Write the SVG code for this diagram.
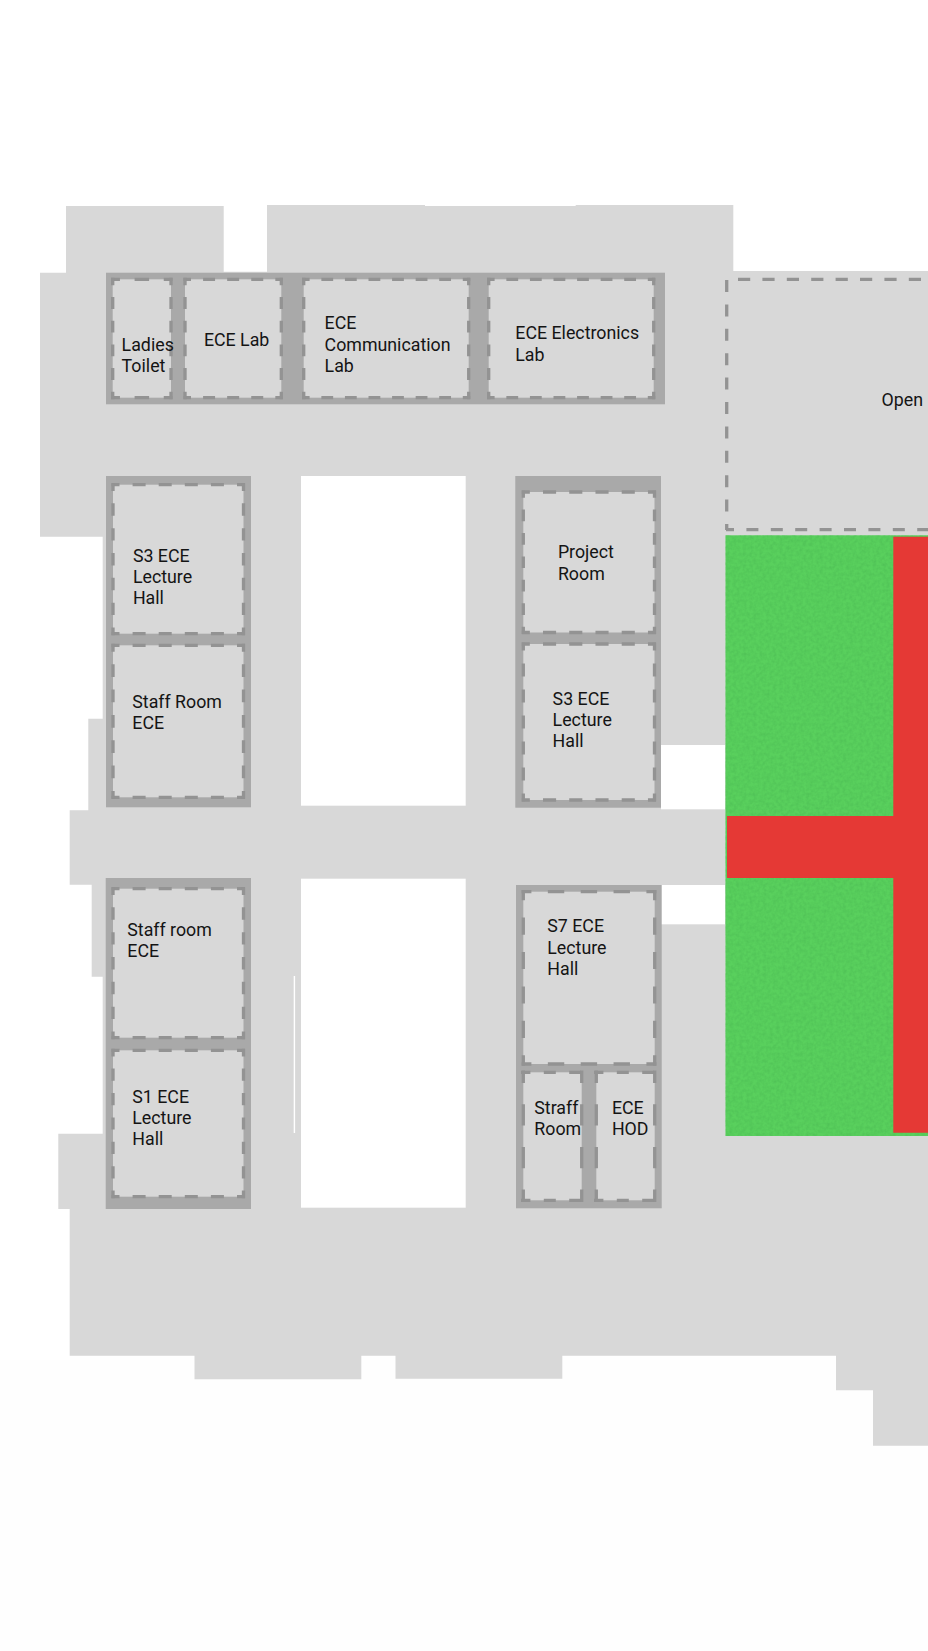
<svg xmlns="http://www.w3.org/2000/svg" width="928" height="1651" viewBox="0 0 928 1651">
<style>
.floor{fill:#d8d8d8}
.hole{fill:#fff}
.frame{fill:#a9a9a9}
.room{fill:#d8d8d8}
.d{fill:none;stroke:#939393;stroke-width:3.3}
text{font-family:Roboto,"Liberation Sans",sans-serif;font-size:17.8px;fill:#141414;transform:translate(-.4px,.5px)}
</style>
<defs>
<filter id="grain" x="0" y="0" width="1" height="1" color-interpolation-filters="sRGB">
<feTurbulence type="fractalNoise" baseFrequency="0.3" numOctaves="2" seed="3" result="n"/>
<feColorMatrix in="n" values="0 0 0 0 0.3 0 0 0 0 0.74 0 0 0 0 0.33 0 0 1.2 0 -0.4" result="m"/>
<feComposite in="m" in2="SourceGraphic" operator="in" result="c"/>
<feMerge><feMergeNode in="SourceGraphic"/><feMergeNode in="c"/></feMerge>
</filter>
</defs>
<rect width="928" height="1651" fill="#fff"/>
<rect y="1360" width="928" height="291" fill="#fefefe"/>
<g id="floor">
<path class="floor" d="M66,206H223.7V271.7H267V205H425V206H575.7V205H733.3V271H928V1445.7H873V1390.3H836V1355.7H562.3V1378.7H395.5V1355.7H361.3V1379.3H194.5V1355.7H69.7V1209H58.3V1133.7H102.7V976.7H91.7V884.7H69.7V810.3H88.3V718.7H102.7V536.7H40V272.7H66Z"/>
<rect class="hole" x="301" y="476" width="164.7" height="329.7"/>
<rect class="hole" x="301" y="878.7" width="164.7" height="329"/>
<rect class="hole" x="293.7" y="976" width="1.4" height="157"/>
<rect class="hole" x="661" y="745" width="64" height="64.3"/>
<rect class="hole" x="661" y="885" width="64" height="39.3"/>
</g>
<g id="green-area"><rect x="725.5" y="535.3" width="202.5" height="600.7" fill="#59d05d" filter="url(#grain)"/></g>
<g id="red-corridor"><path fill="#e53935" d="M893.3,536.7H928V1132.7H893.3V878H727V816H893.3Z"/></g>
<g id="frames">
<rect class="frame" x="106" y="272.7" width="559" height="131.6"/>
<rect class="frame" x="106" y="476" width="145" height="331.3"/>
<rect class="frame" x="515.3" y="476" width="145.7" height="331.7"/>
<rect class="frame" x="105.7" y="878" width="145.3" height="331"/>
<rect class="frame" x="516" y="885" width="145.7" height="323.3"/>
</g>
<g id="room-open">
<path class="d" stroke-dasharray="12 12.4" d="M726.7,280V530"/>
<path class="d" stroke-dasharray="12.2 12.2" d="M738,279.3H928"/>
<path class="d" stroke-dasharray="12 12.4" stroke-dashoffset="4" d="M726,529.7H928"/>
<text x="882" y="405">Open</text>
</g>
<g id="room-ladies-toilet">
<rect class="room" x="112.7" y="279.3" width="58.3" height="118.4"/>
<path class="d" stroke-dasharray="14.5 14.65" stroke-dashoffset="5.75" d="M111.2,279.3H172.5M111.2,397.7H172.5"/>
<path class="d" stroke-dasharray="11.8 11.88" stroke-dashoffset="4.4" d="M112.7,277.8V399.2M171,277.8V399.2"/>
<text x="122" y="350">Ladies</text><text x="122" y="371.7">Toilet</text>
</g>
<g id="room-ece-lab">
<rect class="room" x="185" y="279.3" width="96.3" height="118.4"/>
<path class="d" stroke-dasharray="12 12.08" stroke-dashoffset="4.5" d="M183.5,279.3H282.8M183.5,397.7H282.8"/>
<path class="d" stroke-dasharray="11.8 11.88" stroke-dashoffset="4.4" d="M185,277.8V399.2M281.3,277.8V399.2"/>
<text x="204.3" y="345.7">ECE Lab</text>
</g>
<g id="room-ece-communication-lab">
<rect class="room" x="303.7" y="279.3" width="165" height="118.4"/>
<path class="d" stroke-dasharray="11.8 11.77" stroke-dashoffset="4.4" d="M302.2,279.3H470.2M302.2,397.7H470.2"/>
<path class="d" stroke-dasharray="11.8 11.88" stroke-dashoffset="4.4" d="M303.7,277.8V399.2M468.7,277.8V399.2"/>
<text x="325" y="328.3">ECE</text><text x="325" y="350">Communication</text><text x="325" y="371.7">Lab</text>
</g>
<g id="room-ece-electronics-lab">
<rect class="room" x="488.7" y="279.3" width="165" height="118.4"/>
<path class="d" stroke-dasharray="11.8 11.77" stroke-dashoffset="4.4" d="M487.2,279.3H655.2M487.2,397.7H655.2"/>
<path class="d" stroke-dasharray="11.8 11.88" stroke-dashoffset="4.4" d="M488.7,277.8V399.2M653.7,277.8V399.2"/>
<text x="515.7" y="338.3">ECE Electronics</text><text x="515.7" y="360">Lab</text>
</g>
<g id="room-s3-ece-lecture-hall-left">
<rect class="room" x="113" y="484.7" width="130.5" height="149"/>
<path class="d" stroke-dasharray="13 13.1" stroke-dashoffset="5" d="M111.5,484.7H245M111.5,633.7H245"/>
<path class="d" stroke-dasharray="12.4 12.43" stroke-dashoffset="4.7" d="M113,483.2V635.2M243.5,483.2V635.2"/>
<text x="133.3" y="561">S3 ECE</text><text x="133.3" y="582.3">Lecture</text><text x="133.3" y="603.7">Hall</text>
</g>
<g id="room-staff-room-ece-upper">
<rect class="room" x="113" y="645.3" width="130.5" height="152"/>
<path class="d" stroke-dasharray="13 13.1" stroke-dashoffset="5" d="M111.5,645.3H245M111.5,797.3H245"/>
<path class="d" stroke-dasharray="12.7 12.63" stroke-dashoffset="4.85" d="M113,643.8V798.8M243.5,643.8V798.8"/>
<text x="132.7" y="707.3">Staff Room</text><text x="132.7" y="728.7">ECE</text>
</g>
<g id="room-project-room">
<rect class="room" x="523.3" y="492" width="131.2" height="140.5"/>
<path class="d" stroke-dasharray="13.1 13.14" stroke-dashoffset="5.05" d="M521.8,492H656M521.8,632.5H656"/>
<path class="d" stroke-dasharray="11.7 11.72" stroke-dashoffset="4.35" d="M523.3,490.5V634M654.5,490.5V634"/>
<text x="558.3" y="557.7">Project</text><text x="558.3" y="579">Room</text>
</g>
<g id="room-s3-ece-lecture-hall-right">
<rect class="room" x="523.3" y="644" width="131.2" height="156"/>
<path class="d" stroke-dasharray="13.1 13.14" stroke-dashoffset="5.05" d="M521.8,644H656M521.8,800H656"/>
<path class="d" stroke-dasharray="13 13" stroke-dashoffset="5" d="M523.3,642.5V801.5M654.5,642.5V801.5"/>
<text x="553" y="704">S3 ECE</text><text x="553" y="725.7">Lecture</text><text x="553" y="746.7">Hall</text>
</g>
<g id="room-staff-room-ece-lower">
<rect class="room" x="113" y="888.7" width="130.5" height="149"/>
<path class="d" stroke-dasharray="13 13.1" stroke-dashoffset="5" d="M111.5,888.7H245M111.5,1037.7H245"/>
<path class="d" stroke-dasharray="12.4 12.43" stroke-dashoffset="4.7" d="M113,887.2V1039.2M243.5,887.2V1039.2"/>
<text x="127.7" y="935.3">Staff room</text><text x="127.7" y="956.3">ECE</text>
</g>
<g id="room-s1-ece-lecture-hall">
<rect class="room" x="113" y="1050.3" width="130.5" height="146.4"/>
<path class="d" stroke-dasharray="13 13.1" stroke-dashoffset="5" d="M111.5,1050.3H245M111.5,1196.7H245"/>
<path class="d" stroke-dasharray="12.2 12.2" stroke-dashoffset="4.6" d="M113,1048.8V1198.2M243.5,1048.8V1198.2"/>
<text x="132.7" y="1102">S1 ECE</text><text x="132.7" y="1123.3">Lecture</text><text x="132.7" y="1144.3">Hall</text>
</g>
<g id="room-s7-ece-lecture-hall">
<rect class="room" x="523.3" y="891.7" width="131.4" height="172.3"/>
<path class="d" stroke-dasharray="16.4 16.45" stroke-dashoffset="6.6" d="M521.6,891.7H656.4M521.6,1064H656.4"/>
<path class="d" stroke-width="3.5" stroke-dasharray="17.2 17.26" stroke-dashoffset="7" d="M523.3,890V1065.7M654.7,890V1065.7"/>
<text x="547.7" y="931.7">S7 ECE</text><text x="547.7" y="953.3">Lecture</text><text x="547.7" y="974.5">Hall</text>
</g>
<g id="room-straff-room">
<rect class="room" x="523.3" y="1072.3" width="58.4" height="128"/>
<path class="d" stroke-dasharray="9.4 13.4 12 13.4 12 100" d="M521,1072.3H584M521,1200.3H584"/>
<path class="d" stroke-width="4.5" stroke-dasharray="21.3 21.37" stroke-dashoffset="9" d="M523.3,1070.6V1202M581.7,1070.6V1202"/>
<text x="534.7" y="1113">Straff</text><text x="534.7" y="1134.7">Room</text>
</g>
<g id="room-ece-hod">
<rect class="room" x="596.3" y="1072.3" width="58.4" height="128"/>
<path class="d" stroke-dasharray="9.4 13.4 12 13.4 12 100" d="M594,1072.3H657M594,1200.3H657"/>
<path class="d" stroke-width="4.5" stroke-dasharray="21.3 21.37" stroke-dashoffset="9" d="M596.3,1070.6V1202M654.7,1070.6V1202"/>
<text x="612.3" y="1113">ECE</text><text x="612.3" y="1134.7">HOD</text>
</g>
</svg>
